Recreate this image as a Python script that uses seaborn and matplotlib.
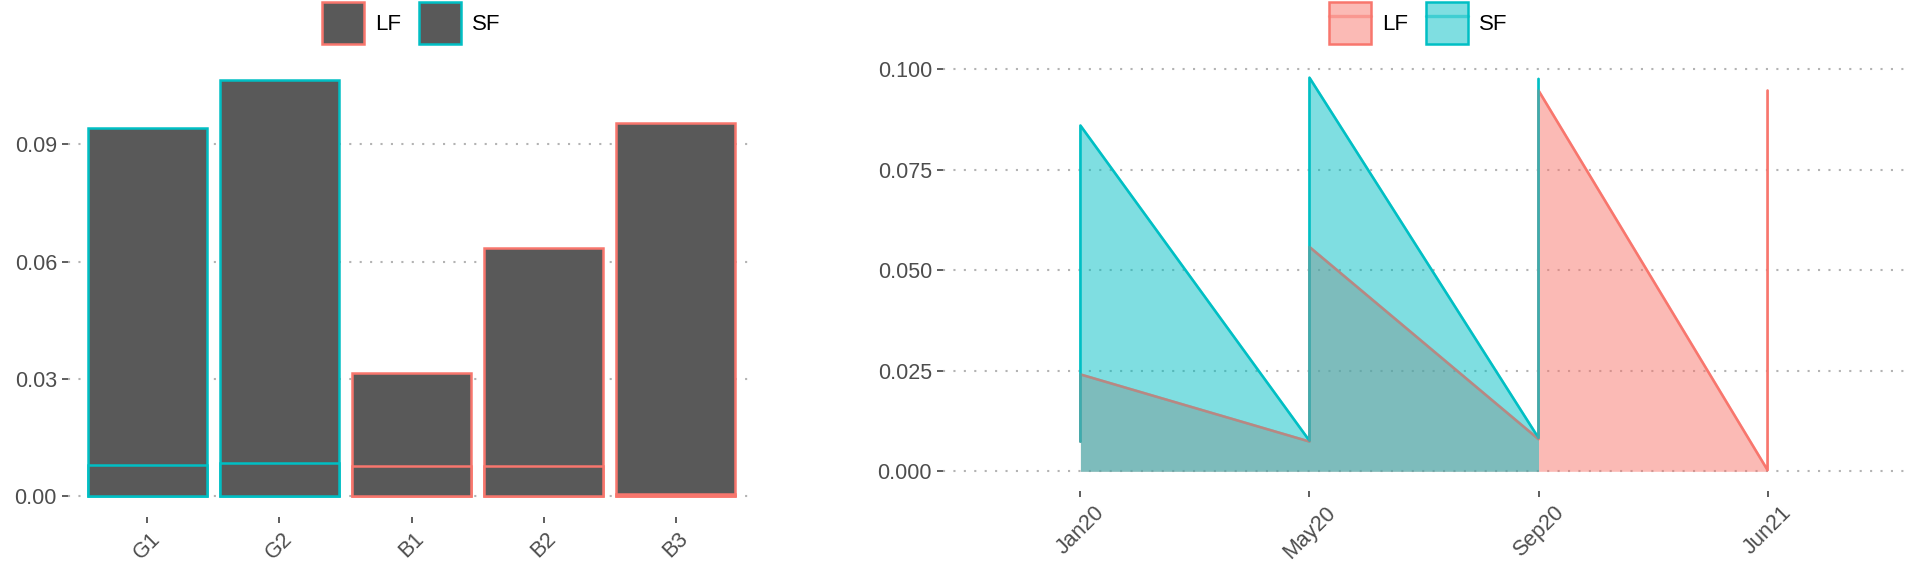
import matplotlib
matplotlib.use("Agg")
import matplotlib.pyplot as plt
from matplotlib.patches import Patch
from matplotlib.lines import Line2D
from matplotlib.legend_handler import HandlerTuple
from matplotlib.colors import to_rgba
import seaborn as sns

# left panel: stacked bars (bottom segment + top segment)
bar_labels = ["G1", "G2", "B1", "B2", "B3"]
bar_group = ["SF", "SF", "LF", "LF", "LF"]
bar_bottom = [0.0081, 0.0086, 0.0077, 0.0077, 0.0006]
bar_top = [0.0862, 0.0979, 0.0239, 0.0558, 0.0949]

# right panel: overlapping areas
date_labels = ["Jan20", "May20", "Sep20", "Jun21"]
lf_pos = [1, 1, 2, 2, 3, 3, 4, 4]
lf_val = [0.0074, 0.0241, 0.0074, 0.0558, 0.0080, 0.0947, 0.0003, 0.0947]
sf_pos = [1, 1, 2, 2, 3, 3]
sf_val = [0.0074, 0.0860, 0.0076, 0.0979, 0.0083, 0.0976]

group_colors = {"LF": "#F8766D", "SF": "#00BFC4"}
bar_fill = "#595959"

sns.set_style("white")
plt.rcParams["font.family"] = ["Liberation Sans", "DejaVu Sans"]

fig = plt.figure(figsize=(19.2, 5.76), dpi=100)
ax1 = fig.add_axes([68 / 1920, 59 / 576, 687 / 1920, 458 / 576])
ax2 = fig.add_axes([943 / 1920, 85 / 576, 962 / 1920, 433 / 576])


def style_axis(ax):
    for s in ax.spines.values():
        s.set_visible(False)
    ax.set_axisbelow(True)
    ax.yaxis.grid(True, linestyle=(0, (1, 4)), color="#b3b3b3", linewidth=1.5)
    ax.xaxis.grid(False)
    ax.tick_params(axis="both", which="major", bottom=True, left=True, length=4,
                   width=1.1, color="#333333", labelsize=15.5, labelcolor="#4D4D4D", pad=4)
    ax.set_xlabel("")
    ax.set_ylabel("")
    for lab in ax.get_xticklabels():
        lab.set_rotation(45)
        lab.set_ha("center")


legend_kw = dict(loc="center", ncol=2, frameon=False, fontsize=16, handlelength=1.9,
                 handleheight=2.5, handletextpad=0.5, columnspacing=0.8, labelcolor="black")

# ---- left: stacked bars
totals = [b + t for b, t in zip(bar_bottom, bar_top)]
sns.barplot(x=bar_labels, y=totals, color=bar_fill, width=0.9, saturation=1, ax=ax1)
sns.barplot(x=bar_labels, y=bar_bottom, color=bar_fill, width=0.9, saturation=1, ax=ax1)
for i, patch in enumerate(ax1.patches):
    patch.set_facecolor(bar_fill)
    patch.set_edgecolor(group_colors[bar_group[i % len(bar_labels)]])
    patch.set_linewidth(1.8)

ymax1 = max(totals)
ax1.set_xlim(-0.6, len(bar_labels) - 0.4)
ax1.set_ylim(-0.05 * ymax1, 1.05 * ymax1)
ax1.set_yticks([0.00, 0.03, 0.06, 0.09])
ax1.set_yticklabels(["0.00", "0.03", "0.06", "0.09"])
style_axis(ax1)

bar_handles = [Patch(facecolor=bar_fill, edgecolor=group_colors[g], linewidth=1.8)
               for g in ["LF", "SF"]]
fig.legend(bar_handles, ["LF", "SF"], bbox_to_anchor=(411 / 1920, 1 - 23 / 576), **legend_kw)

# ---- right: areas (each group: fill, then its upper line, drawn in order)
series = [("LF", lf_pos, lf_val), ("SF", sf_pos, sf_val)]
for k, (name, pos, val) in enumerate(series):
    c = group_colors[name]
    ax2.fill_between(pos, val, 0, color=c, alpha=0.5, linewidth=0, zorder=2 + 2 * k)
    sns.lineplot(x=pos, y=val, estimator=None, sort=False, color=c, linewidth=1.8,
                 legend=False, zorder=3 + 2 * k, ax=ax2)
# faint overlay so the covered outline still shows through the upper fill
for name, pos, val in series:
    sns.lineplot(x=pos, y=val, estimator=None, sort=False, color=group_colors[name],
                 alpha=0.5, linewidth=1.8, legend=False, zorder=10, ax=ax2)

ymax2 = max(max(lf_val), max(sf_val))
ax2.set_xlim(0.4, len(date_labels) + 0.6)
ax2.set_ylim(-0.05 * ymax2, 1.05 * ymax2)
ax2.set_xticks(range(1, len(date_labels) + 1))
ax2.set_xticklabels(date_labels)
ax2.set_yticks([0.000, 0.025, 0.050, 0.075, 0.100])
ax2.set_yticklabels(["0.000", "0.025", "0.050", "0.075", "0.100"])
style_axis(ax2)

area_handles = [(Patch(facecolor=to_rgba(group_colors[g], 0.5), edgecolor=group_colors[g],
                       linewidth=1.8),
                 Line2D([0], [0], color=group_colors[g], alpha=0.5, linewidth=2.4))
                for g in ["LF", "SF"]]
fig.legend(area_handles, ["LF", "SF"], bbox_to_anchor=(1418 / 1920, 1 - 23 / 576),
           handler_map={tuple: HandlerTuple(ndivide=1, pad=0)}, **legend_kw)

fig.savefig("out.png", dpi=100, facecolor="white")
